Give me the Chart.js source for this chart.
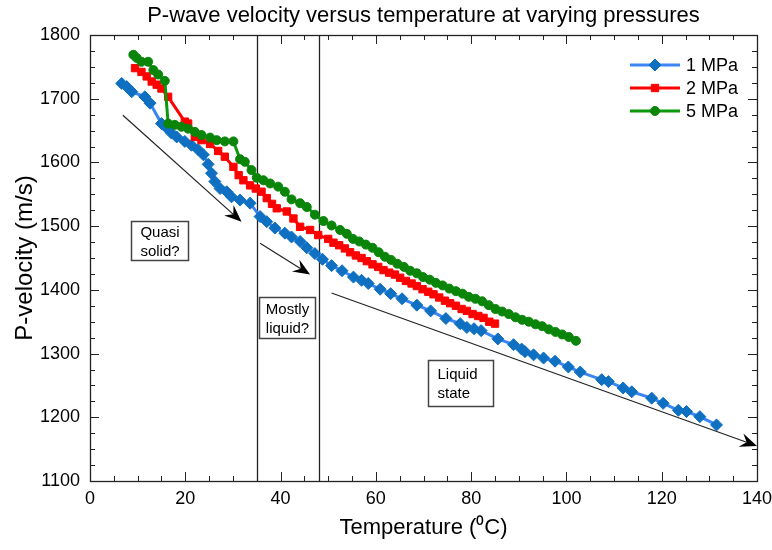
<!DOCTYPE html>
<html>
<head>
<meta charset="utf-8">
<script src="https://cdn.jsdelivr.net/npm/chart.js@4.4.1/dist/chart.umd.min.js"></script>
<style>
  html, body { margin: 0; padding: 0; background: #fff; }
</style>
</head>
<body>
<canvas id="chartVelocidad" width="772" height="550"></canvas>
<script>
// Datos: temperatura (C) y velocidad (m/s) por presion
const temp1MPa = [6.65, 7.7, 8.75, 11.5, 12.6, 15.0, 16.1, 17.1, 18.2, 19.9, 21.3, 22.7, 23.8, 24.8, 25.5, 26.2, 27.3, 28.7, 29.7, 31.5, 33.6, 35.7, 37.1, 38.8, 40.9, 42.3, 44.1, 45.5, 47.2, 48.8, 50.7, 52.9, 55.3, 57.0, 58.4, 60.9, 63.1, 65.5, 68.6, 71.5, 74.7, 77.7, 79.1, 80.6, 82.1, 85.6, 88.9, 90.6, 91.3, 93.1, 95.2, 97.6, 100.4, 102.9, 107.4, 108.8, 111.9, 113.7, 117.9, 120.3, 123.5, 125.2, 128.0, 131.5];
const vel1MPa  = [1724, 1719, 1711, 1703, 1693, 1661, 1654, 1646, 1640, 1633, 1627, 1620, 1612, 1597, 1583, 1570, 1559, 1554, 1546, 1541, 1536, 1515, 1507, 1497, 1489, 1483, 1476, 1466, 1457, 1448, 1438, 1430, 1420, 1415, 1410, 1401, 1394, 1386, 1376, 1367, 1355, 1347, 1341, 1339, 1336, 1323, 1314, 1307, 1303, 1298, 1293, 1288, 1279, 1271, 1259, 1256, 1246, 1240, 1230, 1222, 1211, 1209, 1201, 1188];

const temp2MPa = [9.45, 10.8, 11.9, 12.95, 14.0, 15.0, 16.4, 19.9, 20.6, 22.0, 23.4, 25.2, 26.9, 28.3, 30.1, 31.2, 32.2, 33.6, 34.8, 36.0, 37.1, 38.2, 39.2, 41.3, 42.7, 44.1, 46.2, 47.9, 50.0, 51.1, 52.3, 53.5, 54.6, 55.8, 57.0, 58.1, 59.3, 60.5, 61.6, 62.8, 64.0, 65.1, 66.3, 67.5, 68.6, 69.8, 71.0, 72.1, 73.3, 74.5, 75.6, 76.8, 78.0, 79.1, 80.3, 81.5, 82.6, 83.8, 85.0];
const vel2MPa  = [1748, 1742, 1735, 1727, 1722, 1716, 1703, 1664, 1661, 1640, 1635, 1629, 1618, 1609, 1593, 1580, 1572, 1564, 1559, 1554, 1544, 1535, 1528, 1523, 1512, 1499, 1494, 1486, 1480, 1474, 1470, 1465, 1459, 1454, 1450, 1445, 1440, 1436, 1431, 1427, 1424, 1419, 1414, 1410, 1406, 1401, 1397, 1393, 1388, 1383, 1379, 1375, 1370, 1367, 1362, 1359, 1356, 1350, 1347];

const temp5MPa = [9.1, 9.8, 10.8, 12.2, 13.3, 14.3, 15.7, 16.4, 17.8, 19.2, 20.6, 22.0, 23.4, 25.2, 26.6, 28.3, 30.1, 31.5, 32.5, 33.9, 35.0, 36.4, 37.8, 39.5, 40.9, 42.3, 44.1, 45.5, 47.2, 49.0, 50.7, 52.5, 53.9, 55.2, 56.5, 57.9, 59.3, 60.6, 61.9, 63.2, 64.5, 65.9, 67.2, 68.6, 69.9, 71.3, 72.6, 74.0, 75.4, 76.8, 78.2, 79.5, 80.9, 82.3, 83.7, 85.1, 86.5, 87.9, 89.3, 90.7, 92.1, 93.5, 94.9, 96.3, 97.7, 99.1, 100.5, 102.0];
const vel5MPa  = [1769, 1764, 1758, 1758, 1745, 1738, 1728, 1661, 1659, 1656, 1653, 1648, 1643, 1639, 1635, 1633, 1633, 1605, 1601, 1588, 1576, 1572, 1567, 1562, 1554, 1542, 1536, 1530, 1518, 1508, 1501, 1494, 1488, 1480, 1476, 1471, 1466, 1459, 1452, 1447, 1441, 1436, 1430, 1426, 1420, 1416, 1411, 1407, 1402, 1398, 1394, 1389, 1386, 1382, 1376, 1370, 1366, 1362, 1357, 1353, 1350, 1346, 1343, 1338, 1334, 1330, 1326, 1320];

const etiquetas = ['1 MPa', '2 MPa', '5 MPa'];
const ticksX = [0, 20, 40, 60, 80, 100, 120, 140];
const ticksY = [1100, 1200, 1300, 1400, 1500, 1600, 1700, 1800];
const menorX = 5;
const menorY = 25;
const titulo = 'P-wave velocity versus temperature at varying pressures';

// Anotaciones en coordenadas de datos
const lineasVerticales = [35, 48];
const flechas = [
    { desde: [6.9, 1674], hasta: [31.8, 1507] },
    { desde: [35.7, 1473], hasta: [46.2, 1424] },
    { desde: [50.7, 1395], hasta: [140, 1155] }
];
const cajas = [
    { x0: 8.6, x1: 20.5, y0: 1508, y1: 1447, lineas: ['Quasi', 'solid?'], alin: 'center' },
    { x0: 35.5, x1: 47.2, y0: 1389, y1: 1324, lineas: ['Mostly', 'liquid?'], alin: 'center' },
    { x0: 70.9, x1: 84.6, y0: 1290, y1: 1217, lineas: ['Liquid', 'state'], alin: 'left' }
];

const fuente = "'Liberation Sans', Arial, sans-serif";

const puntos = (xs, ys) => xs.map((t, i) => ({ x: t, y: ys[i] }));

// Flecha con punta rellena
const dibujarFlecha = (ctx, x1, y1, x2, y2) => {
    const ang = Math.atan2(y2 - y1, x2 - x1);
    const largo = 17, ancho = 7, muesca = 11;
    ctx.beginPath();
    ctx.moveTo(x1, y1);
    ctx.lineTo(x2 - Math.cos(ang) * muesca, y2 - Math.sin(ang) * muesca);
    ctx.stroke();
    ctx.save();
    ctx.translate(x2, y2);
    ctx.rotate(ang);
    ctx.beginPath();
    ctx.moveTo(0, 0);
    ctx.lineTo(-largo, -ancho);
    ctx.lineTo(-muesca, 0);
    ctx.lineTo(-largo, ancho);
    ctx.closePath();
    ctx.fill();
    ctx.restore();
};

const anotaciones = {
    id: 'anotaciones',
    beforeDatasetsDraw(chart) {
        const { ctx, chartArea: { top, bottom }, scales: { x, y } } = chart;
        ctx.save();
        ctx.strokeStyle = '#222';
        ctx.fillStyle = '#000';
        ctx.lineWidth = 1.3;
        lineasVerticales.forEach(v => {
            const px = Math.round(x.getPixelForValue(v)) + 0.5;
            ctx.beginPath();
            ctx.moveTo(px, top);
            ctx.lineTo(px, bottom);
            ctx.stroke();
        });
        ctx.lineWidth = 1.2;
        flechas.forEach(f => dibujarFlecha(ctx,
            x.getPixelForValue(f.desde[0]), y.getPixelForValue(f.desde[1]),
            x.getPixelForValue(f.hasta[0]), y.getPixelForValue(f.hasta[1])));
        cajas.forEach(c => {
            const l = Math.round(x.getPixelForValue(c.x0)) + 0.5;
            const r = Math.round(x.getPixelForValue(c.x1)) + 0.5;
            const t = Math.round(y.getPixelForValue(c.y0)) + 0.5;
            const b = Math.round(y.getPixelForValue(c.y1)) + 0.5;
            ctx.fillStyle = '#fff';
            ctx.fillRect(l, t, r - l, b - t);
            ctx.strokeStyle = '#444';
            ctx.lineWidth = 1.5;
            ctx.strokeRect(l, t, r - l, b - t);
            ctx.fillStyle = '#000';
            ctx.font = '15px ' + fuente;
            ctx.textBaseline = 'middle';
            ctx.textAlign = c.alin;
            const tx = c.alin === 'center' ? (l + r) / 2 : l + 9;
            const alto = 19;
            const y0 = (t + b) / 2 - alto * (c.lineas.length - 1) / 2 + 1;
            c.lineas.forEach((txt, i) => ctx.fillText(txt, tx, y0 + alto * i));
        });
        ctx.restore();
    },
    afterDatasetsDraw(chart) {
        const { ctx, chartArea: { left, right, top, bottom }, scales: { x, y } } = chart;
        ctx.save();
        ctx.strokeStyle = '#222';
        ctx.lineWidth = 1.3;
        ctx.strokeRect(Math.round(left) + 0.5, Math.round(top) + 0.5, Math.round(right - left), Math.round(bottom - top));
        ctx.lineWidth = 1;
        ctx.beginPath();
        for (let v = ticksX[0]; v <= ticksX[ticksX.length - 1]; v += menorX) {
            const px = Math.round(x.getPixelForValue(v)) + 0.5;
            const len = ticksX.includes(v) ? 9 : 5;
            ctx.moveTo(px, bottom); ctx.lineTo(px, bottom - len);
            ctx.moveTo(px, top); ctx.lineTo(px, top + len);
        }
        for (let v = ticksY[0]; v <= ticksY[ticksY.length - 1]; v += menorY) {
            const py = Math.round(y.getPixelForValue(v)) + 0.5;
            const len = ticksY.includes(v) ? 9 : 5;
            ctx.moveTo(left, py); ctx.lineTo(left + len, py);
            ctx.moveTo(right, py); ctx.lineTo(right - len, py);
        }
        ctx.stroke();

        // Titulo centrado sobre el area del grafico
        ctx.fillStyle = '#000';
        ctx.font = '22px ' + fuente;
        ctx.textAlign = 'center';
        ctx.textBaseline = 'middle';
        ctx.fillText(titulo, (left + right) / 2, 16);

        // Leyenda dentro del area
        chart.data.datasets.forEach((ds, i) => {
            const ly = top + 30 + i * 23;
            const lx0 = right - 127, lx1 = right - 77;
            ctx.strokeStyle = ds.borderColor;
            ctx.lineWidth = ds.borderWidth;
            ctx.beginPath();
            ctx.moveTo(lx0, ly);
            ctx.lineTo(lx1, ly);
            ctx.stroke();
            ctx.fillStyle = ds.pointBackgroundColor;
            ctx.strokeStyle = ds.pointBorderColor;
            ctx.lineWidth = 1;
            Chart.helpers.drawPoint(ctx, { pointStyle: ds.pointStyle, radius: ds.pointRadius, rotation: 0, borderWidth: 1 }, (lx0 + lx1) / 2, ly);
            ctx.fillStyle = '#000';
            ctx.font = '18px ' + fuente;
            ctx.textAlign = 'left';
            ctx.textBaseline = 'middle';
            ctx.fillText(ds.label, right - 71, ly + 1);
        });
        ctx.restore();
    }
};

const ctx = document.getElementById('chartVelocidad').getContext('2d');

const chartVelocidad = new Chart(ctx, {
    type: 'line',
    data: {
        datasets: [
            {
                label: etiquetas[0],
                data: puntos(temp1MPa, vel1MPa),
                borderColor: '#3a86f7',
                borderWidth: 3,
                pointStyle: 'rectRot',
                pointRadius: 6,
                pointBorderWidth: 1,
                pointBackgroundColor: '#0f70c2',
                pointBorderColor: '#0f70c2',
                order: 2
            },
            {
                label: etiquetas[1],
                data: puntos(temp2MPa, vel2MPa),
                borderColor: '#ff0000',
                borderWidth: 3,
                pointStyle: 'rect',
                pointRadius: 5.2,
                pointBorderWidth: 1,
                pointBackgroundColor: '#ff0000',
                pointBorderColor: '#ff0000',
                order: 1
            },
            {
                label: etiquetas[2],
                data: puntos(temp5MPa, vel5MPa),
                borderColor: '#0a990a',
                borderWidth: 3,
                pointStyle: 'circle',
                pointRadius: 4.5,
                pointBorderWidth: 1,
                pointBackgroundColor: '#0a850a',
                pointBorderColor: '#0a850a',
                order: 0
            }
        ]
    },
    options: {
        responsive: false,
        animation: false,
        layout: { padding: { left: 0, right: 15, top: 35, bottom: 0 } },
        elements: { line: { tension: 0 } },
        plugins: {
            legend: { display: false },
            tooltip: { enabled: false },
            title: { display: false }
        },
        scales: {
            x: {
                type: 'linear',
                min: 0,
                max: 140,
                afterBuildTicks: s => { s.ticks = ticksX.map(v => ({ value: v })); },
                afterFit: s => { s.height = 69; s.paddingLeft = 0; s.paddingRight = 0; },
                grid: { display: false, drawTicks: false },
                border: { display: false },
                ticks: { color: '#000', padding: 7, maxRotation: 0, font: { family: fuente, size: 18 }, callback: v => String(v) },
                title: {
                    display: true,
                    text: 'Temperature (\u2070C)',
                    color: '#000',
                    font: { family: fuente, size: 22 },
                    padding: { top: 0, bottom: 9 }
                }
            },
            y: {
                type: 'linear',
                min: 1100,
                max: 1800,
                afterBuildTicks: s => { s.ticks = ticksY.map(v => ({ value: v })); },
                afterFit: s => { s.width = 90; s.paddingTop = 0; s.paddingBottom = 0; },
                grid: { display: false, drawTicks: false },
                border: { display: false },
                ticks: { color: '#000', padding: 10, font: { family: fuente, size: 18 }, callback: v => String(v) },
                title: {
                    display: true,
                    text: 'P-velocity (m/s)',
                    color: '#000',
                    font: { family: fuente, size: 24 },
                    padding: { top: 11, bottom: 0 }
                }
            }
        }
    },
    plugins: [anotaciones]
});
</script>
</body>
</html>
